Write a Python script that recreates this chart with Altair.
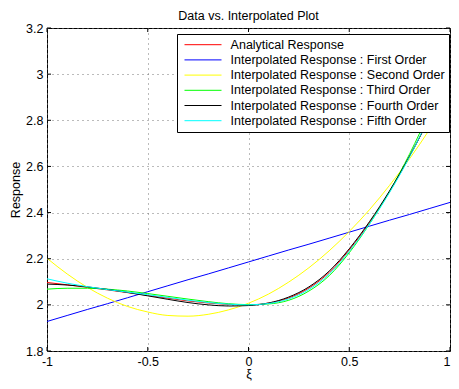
import altair as alt
import pandas as pd

# ---- data ----
xi = [-1.0, -0.9, -0.8, -0.7, -0.6, -0.5, -0.4, -0.3, -0.2, -0.1, 0.0,
      0.1, 0.2, 0.3, 0.4, 0.5, 0.6, 0.7, 0.8, 0.9, 1.0]

analytical = [2.097, 2.087, 2.076, 2.065, 2.053, 2.041, 2.029, 2.017, 2.008, 2.002, 2.000,
              2.008, 2.030, 2.073, 2.140, 2.238, 2.355, 2.490, 2.645, 2.815, 2.990]
first_order = [1.928, 1.954, 1.980, 2.005, 2.031, 2.057, 2.083, 2.109, 2.134, 2.160, 2.186,
               2.212, 2.238, 2.263, 2.289, 2.315, 2.341, 2.367, 2.392, 2.418, 2.444]
second_order = [2.202, 2.134, 2.076, 2.029, 1.993, 1.969, 1.954, 1.951, 1.959, 1.978, 2.007,
                2.047, 2.099, 2.161, 2.234, 2.318, 2.412, 2.518, 2.634, 2.762, 2.900]
third_order = [2.068, 2.072, 2.072, 2.068, 2.060, 2.049, 2.037, 2.025, 2.014, 2.005, 2.001,
               2.004, 2.020, 2.060, 2.126, 2.226, 2.350, 2.492, 2.655, 2.840, 3.035]
fourth_order = [2.090, 2.086, 2.078, 2.067, 2.054, 2.039, 2.024, 2.010, 2.000, 1.995, 1.997,
                2.008, 2.034, 2.078, 2.146, 2.243, 2.360, 2.494, 2.645, 2.810, 2.965]
fifth_order = [2.113, 2.094, 2.079, 2.066, 2.055, 2.044, 2.032, 2.020, 2.010, 2.003, 2.000,
               2.006, 2.026, 2.067, 2.133, 2.232, 2.350, 2.487, 2.642, 2.818, 2.975]

series_names = [
    "Analytical Response",
    "Interpolated Response : First Order",
    "Interpolated Response : Second Order",
    "Interpolated Response : Third Order",
    "Interpolated Response : Fourth Order",
    "Interpolated Response : Fifth Order",
]
series_colors = ["#ff0000", "#0000ff", "#ffff00", "#00ff00", "#000000", "#00ffff"]

x_ticks = [-1, -0.5, 0, 0.5, 1]
y_ticks = [1.8, 2.0, 2.2, 2.4, 2.6, 2.8, 3.0, 3.2]

# ---- build tables ----
all_series = [analytical, first_order, second_order, third_order, fourth_order, fifth_order]
rows = []
for name, vals in zip(series_names, all_series):
    for x, v in zip(xi, vals):
        rows.append({"xi": x, "response": v, "series": name})
df = pd.DataFrame(rows)
ydf = pd.DataFrame({"response": y_ticks})
xdf = pd.DataFrame({"xi": x_ticks})

W, H = 403, 323
FONT = "Liberation Sans"
FS = 12.5
TL = 4  # inward tick length

xscale = alt.Scale(domain=[-1, 1], nice=False, zero=False)
yscale = alt.Scale(domain=[1.8, 3.2], nice=False, zero=False)
minus_fix = "replace(datum.label, '\u2212', '-')"

lines = alt.Chart(df).mark_line(strokeWidth=1, interpolate="monotone", clip=True).encode(
    x=alt.X("xi:Q", scale=xscale,
            axis=alt.Axis(values=x_ticks, title="ξ", format="~g", labelExpr=minus_fix,
                          labelPadding=4, titlePadding=0,
                          labelAlign={"condition": {"test": "datum.value == 1", "value": "right"},
                                      "value": "center"})),
    y=alt.Y("response:Q", scale=yscale,
            axis=alt.Axis(values=y_ticks, title="Response", format="~g", labelExpr=minus_fix,
                          labelPadding=4, titlePadding=3)),
    color=alt.Color("series:N",
                    scale=alt.Scale(domain=series_names, range=series_colors),
                    legend=alt.Legend(
                        title=None, orient="none", legendX=130, legendY=6,
                        direction="vertical",
                        symbolType="stroke", symbolSize=1369, symbolStrokeWidth=1,
                        symbolOffset=3.3, labelOffset=8.6, clipHeight=14,
                        labelFont=FONT, labelFontSize=FS, labelColor="black", labelLimit=0,
                        padding=3.7, rowPadding=1.2,
                        strokeColor="black", fillColor="white", cornerRadius=0,
                    )),
)

tick_style = dict(color="black", strokeWidth=1)
left_ticks = alt.Chart(ydf).mark_rule(**tick_style).encode(
    y=alt.Y("response:Q", scale=yscale), x=alt.value(0), x2=alt.value(TL))
right_ticks = alt.Chart(ydf).mark_rule(**tick_style).encode(
    y=alt.Y("response:Q", scale=yscale), x=alt.value(W - TL), x2=alt.value(W))
bottom_ticks = alt.Chart(xdf).mark_rule(**tick_style).encode(
    x=alt.X("xi:Q", scale=xscale), y=alt.value(H - TL), y2=alt.value(H))
top_ticks = alt.Chart(xdf).mark_rule(**tick_style).encode(
    x=alt.X("xi:Q", scale=xscale), y=alt.value(0), y2=alt.value(TL))

chart = alt.layer(lines, left_ticks, right_ticks, bottom_ticks, top_ticks).properties(
    width=W,
    height=H,
    title=alt.TitleParams("Data vs. Interpolated Plot", font=FONT, fontSize=FS,
                          fontWeight="normal", color="black", anchor="middle",
                          frame="group", baseline="alphabetic", offset=-10),
    autosize=alt.AutoSizeParams(type="none"),
    padding={"left": 39, "top": 20, "right": 1, "bottom": 30},
    background="white",
).configure_view(
    stroke="black", strokeWidth=1
).configure_axis(
    labelFont=FONT, labelFontSize=FS, labelColor="black",
    titleFont=FONT, titleFontSize=FS, titleFontWeight="normal", titleColor="black",
    grid=True, gridColor="#777777", gridDash=[1, 4], gridWidth=1, gridOpacity=1,
    domain=False, ticks=False, labelFlush=False, labelOverlap=False,
)

chart.save("out.html", embed_options={"renderer": "svg", "actions": False})
